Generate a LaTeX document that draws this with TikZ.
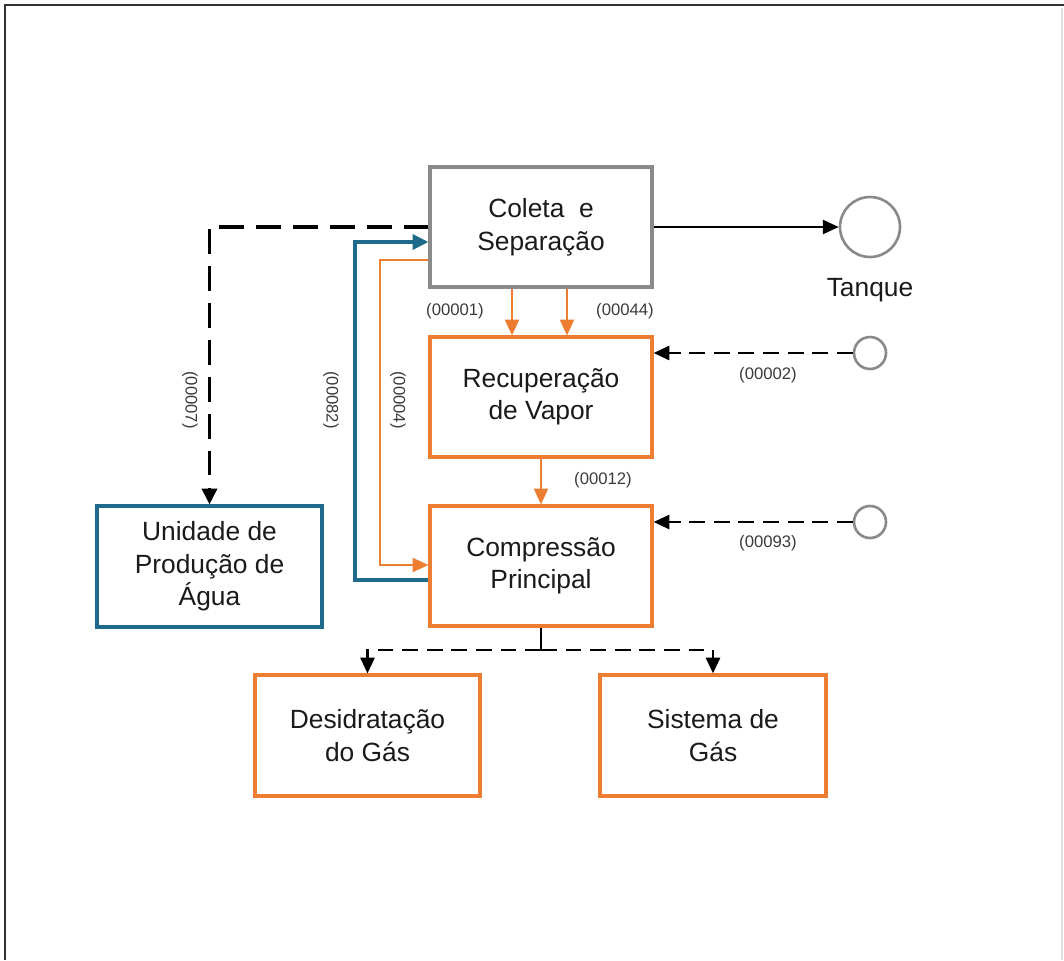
\documentclass[tikz,border=0pt]{standalone}
\usepackage{fontspec}
\setmainfont{Liberation Sans}
\usetikzlibrary{arrows.meta,calc}

\definecolor{procorange}{HTML}{ED7D31}
\definecolor{procblue}{HTML}{1E6A8A}
\definecolor{procgray}{HTML}{8A8A8A}
\definecolor{labelgray}{HTML}{3A3A3A}
\definecolor{textdark}{HTML}{1A1A1A}

\tikzset{
  unitbox/.style={draw, line width=1.8pt, fill=white, rectangle, align=center,
    minimum width=4.44cm, minimum height=2.4cm, inner sep=2pt,
    text=textdark, font=\fontsize{15}{18.5}\selectfont},
  graybox/.style={unitbox, draw=procgray},
  orangebox/.style={unitbox, draw=procorange},
  bluebox/.style={unitbox, draw=procblue, minimum width=4.5cm, minimum height=2.42cm},
  endpoint/.style={draw=procgray, line width=1.5pt, circle, fill=white, inner sep=0pt},
  flowlabel/.style={text=labelgray, font=\fontsize{9.5}{11}\selectfont, inner sep=1pt},
  solidflow/.style={draw=black, line width=1.2pt, -{Triangle[length=9pt,width=8pt]}},
  orangeflow/.style={draw=procorange, line width=1.2pt, -{Triangle[length=9pt,width=8pt]}},
  thinorange/.style={draw=procorange, line width=1pt, -{Triangle[length=9pt,width=8pt]}},
  blueflow/.style={draw=procblue, line width=2pt, -{Triangle[length=9pt,width=8.5pt]}},
  bigdash/.style={draw=black, line width=2.1pt, dash pattern=on 14pt off 7pt,
    -{Triangle[length=9pt,width=8.5pt]}},
  smalldash/.style={draw=black, line width=1.5pt, dash pattern=on 9pt off 5pt,
    -{Triangle[length=9pt,width=8pt]}},
}

\begin{document}
\begin{tikzpicture}[x=0.02cm, y=-0.02cm]
  \useasboundingbox (0,0) rectangle (1064,960);

  % page frame
  \draw[line width=1.6pt, draw=black!80] (5,960) -- (5,5) -- (1064,5);
  \draw[line width=0.6pt, draw=black!12] (1062,8) -- (1062,960);

  % process units
  \node[graybox]   (coleta) at (541,227) {Coleta\ \ e\\Separação};
  \node[orangebox] (recup)  at (541,397) {Recuperação\\de Vapor};
  \node[orangebox] (comp)   at (541,566) {Compressão\\Principal};
  \node[bluebox]   (agua)   at (209.5,566.5) {Unidade de\\Produção de\\Água};
  \node[orangebox, minimum width=4.5cm, minimum height=2.42cm] (desid) at (367.5,735.5) {Desidratação\\do Gás};
  \node[orangebox, minimum width=4.52cm, minimum height=2.42cm] (sistema) at (713,735.5) {Sistema de\\Gás};

  % boundary points
  \node[endpoint, minimum size=1.2cm] (tanque) at (870,227) {};
  \node[text=textdark, font=\fontsize{15}{18}\selectfont] (tanquelbl) at (870,290) {Tanque};
  \node[endpoint, minimum size=0.64cm] (src2)  at (870,353) {};
  \node[endpoint, minimum size=0.64cm] (src93) at (870,522) {};

  % streams
  \draw[solidflow] (coleta.east) -- (tanque.west);

  \draw[orangeflow] ($(coleta.south)+(-29,0)$) -- ($(recup.north)+(-29,0)$);
  \draw[orangeflow] ($(coleta.south)+(26,0)$) -- ($(recup.north)+(26,0)$);
  \node[flowlabel] (l1)  at (455,311) {(00001)};
  \node[flowlabel] (l44) at (625,311) {(00044)};

  \draw[orangeflow] (recup.south) -- (comp.north);
  \node[flowlabel] (l12) at (603,480) {(00012)};

  \draw[smalldash] (src2.west) -- (recup.east |- src2.west);
  \node[flowlabel] (l2) at (768,375) {(00002)};
  \draw[smalldash] (src93.west) -- (comp.east |- src93.west);
  \node[flowlabel] (l93) at (768,543) {(00093)};

  \draw[bigdash] (coleta.west) -| (agua.north);
  \node[flowlabel, rotate=-90] (l7) at (190,400) {(00007)};

  \draw[blueflow] ($(comp.west)+(0,14)$) -| (355,400) |- ($(coleta.west)+(0,15)$);
  \node[flowlabel, rotate=-90] (l82) at (331,400) {(00082)};

  \draw[thinorange] ($(coleta.west)+(0,33)$) -| (380,400) |- ($(comp.west)+(0,-1)$);
  \node[flowlabel, rotate=-90] (l4) at (398,400) {(00004)};

  % outlet split below the compressor
  \coordinate (split) at (comp.south |- 0,650);
  \draw[line width=1.5pt] (comp.south) -- (split);
  \draw[smalldash] (split) -| (desid.north);
  \draw[smalldash] (split) -| (sistema.north);
\end{tikzpicture}
\end{document}
